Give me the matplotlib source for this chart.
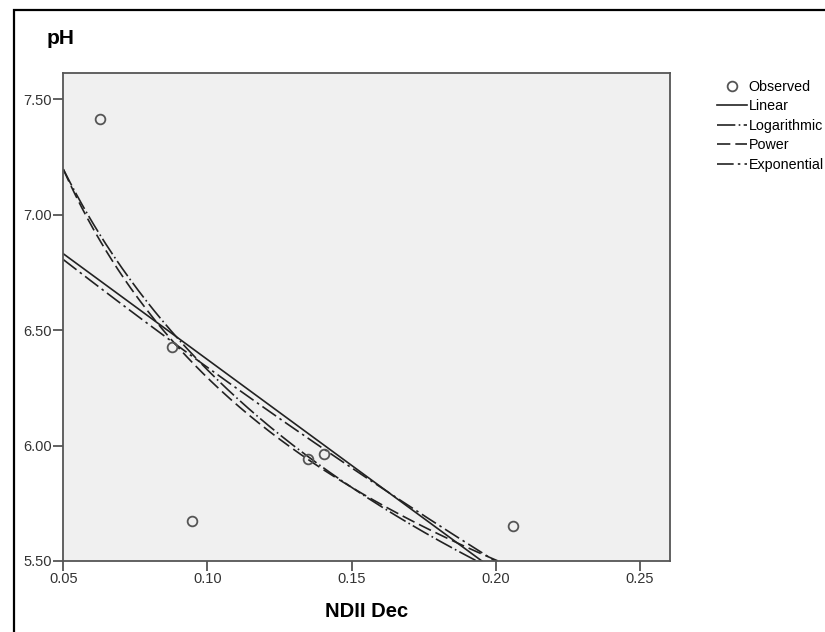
import numpy as np
import matplotlib
matplotlib.use('Agg')
import matplotlib.pyplot as plt
from matplotlib.patches import Rectangle
from matplotlib.ticker import FormatStrFormatter

plt.rcParams['font.family'] = ['Liberation Sans', 'DejaVu Sans']

# observed values
ndii = [0.0627, 0.0878, 0.0948, 0.1349, 0.1404, 0.2061]
ph = [7.413, 6.428, 5.674, 5.942, 5.964, 5.653]

x_ticks = [0.05, 0.10, 0.15, 0.20, 0.25]
y_ticks = [5.50, 6.00, 6.50, 7.00, 7.50]

ink = '#222222'
W, H = 825, 632

fig = plt.figure(figsize=(W / 100, H / 100), dpi=100)
ax = fig.add_axes([63.3 / W, 1 - 561 / H, (670 - 63.3) / W, (561 - 73.3) / H])
ax.set_facecolor('#f0f0f0')

x = np.array(ndii)
y = np.array(ph)
xs = np.linspace(0.05, 0.2604, 300)

# curve estimation: linear, logarithmic, power, exponential
b1, a1 = np.polyfit(x, y, 1)
b2, a2 = np.polyfit(np.log(x), y, 1)
b3, a3 = np.polyfit(np.log(x), np.log(y), 1)
b4, a4 = np.polyfit(x, np.log(y), 1)

ax.plot(x, y, 'o', ms=7, mfc='none', mec='#555555', mew=1.3, label='Observed', zorder=5)
ax.plot(xs, a1 + b1 * xs, color=ink, lw=1.2, ls='-', label='Linear')
ax.plot(xs, a2 + b2 * np.log(xs), color=ink, lw=1.2, ls=(0, (11, 2, 1, 2)), label='Logarithmic')
ax.plot(xs, np.exp(a3) * xs ** b3, color=ink, lw=1.2, ls=(0, (8, 3)), label='Power')
ax.plot(xs, np.exp(a4 + b4 * xs), color=ink, lw=1.2, ls=(0, (10, 2.5, 1.5, 2.5)), label='Exponential')

ax.set_xlim(0.05, 0.2604)
ax.set_ylim(5.5, 7.613)
ax.set_xticks(x_ticks)
ax.set_yticks(y_ticks)
ax.xaxis.set_major_formatter(FormatStrFormatter('%.2f'))
ax.yaxis.set_major_formatter(FormatStrFormatter('%.2f'))
ax.tick_params(direction='out', length=7.5, width=1.3, color='#555555',
               labelsize=10.5, labelcolor='#333333', pad=0.5)
for s in ax.spines.values():
    s.set_color('#555555')
    s.set_linewidth(1.3)

fig.text(47 / W, 1 - 39 / H, 'pH', fontsize=15, fontweight='bold', ha='left', va='center')
fig.text(366.6 / W, 1 - 611.5 / H, 'NDII Dec', fontsize=14.5, fontweight='bold', ha='center', va='center')

fig.legend(loc='upper left', bbox_to_anchor=(717 / W, 1 - 80 / H), frameon=False,
           fontsize=10.3, handlelength=2.1, handletextpad=0.1, labelspacing=0.38,
           borderpad=0, borderaxespad=0)

# outer frame
fig.add_artist(Rectangle((13.5 / W, -0.1), 1.2, 1.1 - 9.8 / H, transform=fig.transFigure,
                         fill=False, ec='black', lw=1.6))

fig.savefig('out.png', dpi=100)
